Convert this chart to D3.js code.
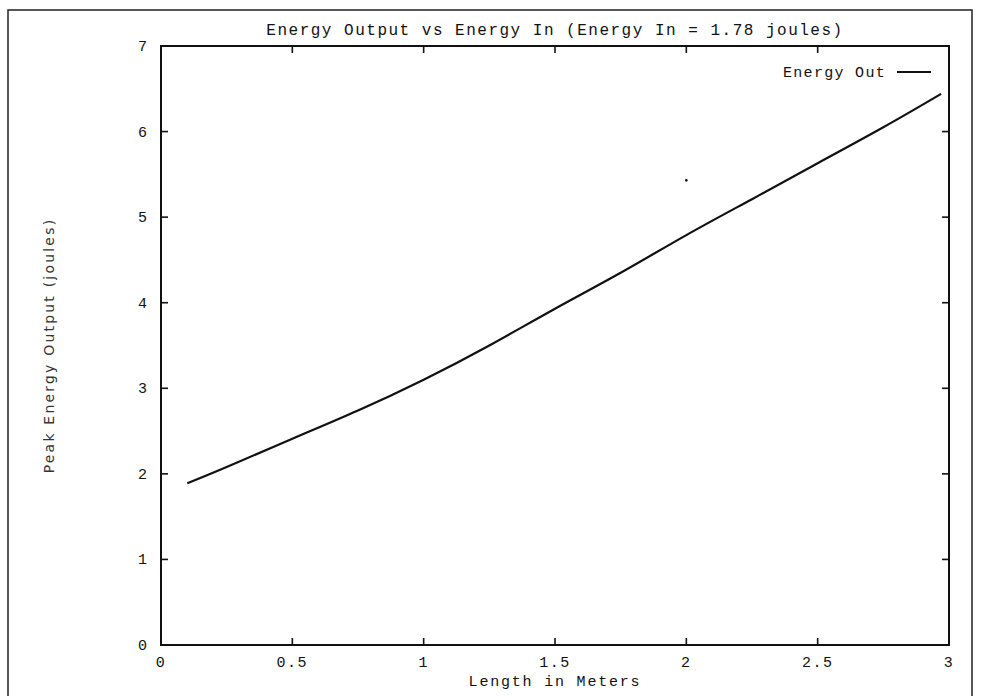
<!DOCTYPE html>
<html>
<head>
<meta charset="utf-8">
<script src="https://cdn.jsdelivr.net/npm/d3@7"></script>
<style>
  body { margin: 0; background: #fff; }
  text { font-family: "Liberation Mono", "DejaVu Sans Mono", monospace; fill: #111; }
</style>
</head>
<body>
<div id="chart"></div>
<script>
const width = 981, height = 696;

// data
const lengths = [0.1, 0.25, 0.5, 0.75, 1.0, 1.25, 1.5, 1.75, 2.0, 2.25, 2.5, 2.75, 2.97];
const energyOut = [1.89, 2.08, 2.41, 2.74, 3.10, 3.50, 3.93, 4.35, 4.79, 5.21, 5.63, 6.05, 6.44];
const xTicks = [0, 0.5, 1, 1.5, 2, 2.5, 3];
const yTicks = [0, 1, 2, 3, 4, 5, 6, 7];
const seriesName = "Energy Out";
// stray speck on the scanned page
const specks = [[2.0, 5.43]];

const margin = {top: 46, right: 32, bottom: 51, left: 161};

const svg = d3.select("#chart").append("svg")
    .attr("width", width).attr("height", height);

// outer page frame
svg.append("path")
    .attr("d", `M8,${height + 5} V10 H972 V${height + 5}`)
    .attr("fill", "none")
    .attr("stroke", "#222")
    .attr("stroke-width", 1.5);

const x = d3.scaleLinear().domain([0, 3]).range([margin.left, width - margin.right]);
const y = d3.scaleLinear().domain([0, 7]).range([height - margin.bottom, margin.top]);

// plot border
svg.append("rect")
    .attr("x", x(0)).attr("y", y(7))
    .attr("width", x(3) - x(0)).attr("height", y(0) - y(7))
    .attr("fill", "none").attr("stroke", "#111").attr("stroke-width", 2);

// inward ticks on all four sides
const tickLen = 7;
const ticks = svg.append("g").attr("stroke", "#111").attr("stroke-width", 1.6);
xTicks.slice(1, -1).forEach(t => {
    ticks.append("line").attr("x1", x(t)).attr("x2", x(t)).attr("y1", y(0)).attr("y2", y(0) - tickLen);
    ticks.append("line").attr("x1", x(t)).attr("x2", x(t)).attr("y1", y(7)).attr("y2", y(7) + tickLen);
});
yTicks.slice(1, -1).forEach(t => {
    ticks.append("line").attr("x1", x(0)).attr("x2", x(0) + tickLen).attr("y1", y(t)).attr("y2", y(t));
    ticks.append("line").attr("x1", x(3)).attr("x2", x(3) - tickLen).attr("y1", y(t)).attr("y2", y(t));
});

// tick labels
svg.append("g").selectAll("text")
    .data(xTicks).enter().append("text")
    .attr("x", d => x(d))
    .attr("y", y(0) + 22)
    .attr("text-anchor", "middle")
    .style("font-size", "15px")
    .style("letter-spacing", "1.5px")
    .text(d => d);

svg.append("g").selectAll("text")
    .data(yTicks).enter().append("text")
    .attr("x", x(0) - 14)
    .attr("y", d => y(d) + 5)
    .attr("text-anchor", "end")
    .style("font-size", "15px")
    .text(d => d);

// titles
svg.append("text")
    .attr("x", (x(0) + x(3)) / 2)
    .attr("y", 35)
    .attr("text-anchor", "middle")
    .style("font-size", "16px")
    .style("letter-spacing", "1.5px")
    .text("Energy Output vs Energy In (Energy In = 1.78 joules)");

svg.append("text")
    .attr("x", (x(0) + x(3)) / 2)
    .attr("y", 686)
    .attr("text-anchor", "middle")
    .style("font-size", "15px")
    .style("letter-spacing", "1.8px")
    .text("Length in Meters");

svg.append("text")
    .attr("transform", `translate(54, ${(y(0) + y(7)) / 2}) rotate(-90)`)
    .attr("text-anchor", "middle")
    .style("font-family", "'DejaVu Sans', sans-serif")
    .style("font-size", "14px")
    .style("letter-spacing", "2.2px")
    .style("fill", "#333")
    .text("Peak Energy Output (joules)");

// the curve
const points = lengths.map((d, i) => [d, energyOut[i]]);
const line = d3.line()
    .x(d => x(d[0]))
    .y(d => y(d[1]))
    .curve(d3.curveNatural);

svg.append("path")
    .datum(points)
    .attr("d", line)
    .attr("fill", "none")
    .attr("stroke", "#111")
    .attr("stroke-width", 2.2);

// legend
const legend = svg.append("g");
legend.append("text")
    .attr("x", 886)
    .attr("y", 77)
    .attr("text-anchor", "end")
    .style("font-size", "15px")
    .style("letter-spacing", "1.3px")
    .text(seriesName);
legend.append("line")
    .attr("x1", 897).attr("x2", 931)
    .attr("y1", 72).attr("y2", 72)
    .attr("stroke", "#111").attr("stroke-width", 2);

svg.selectAll(".speck")
    .data(specks).enter().append("circle")
    .attr("class", "speck")
    .attr("cx", d => x(d[0]))
    .attr("cy", d => y(d[1]))
    .attr("r", 1.3)
    .attr("fill", "#111");
</script>
</body>
</html>
